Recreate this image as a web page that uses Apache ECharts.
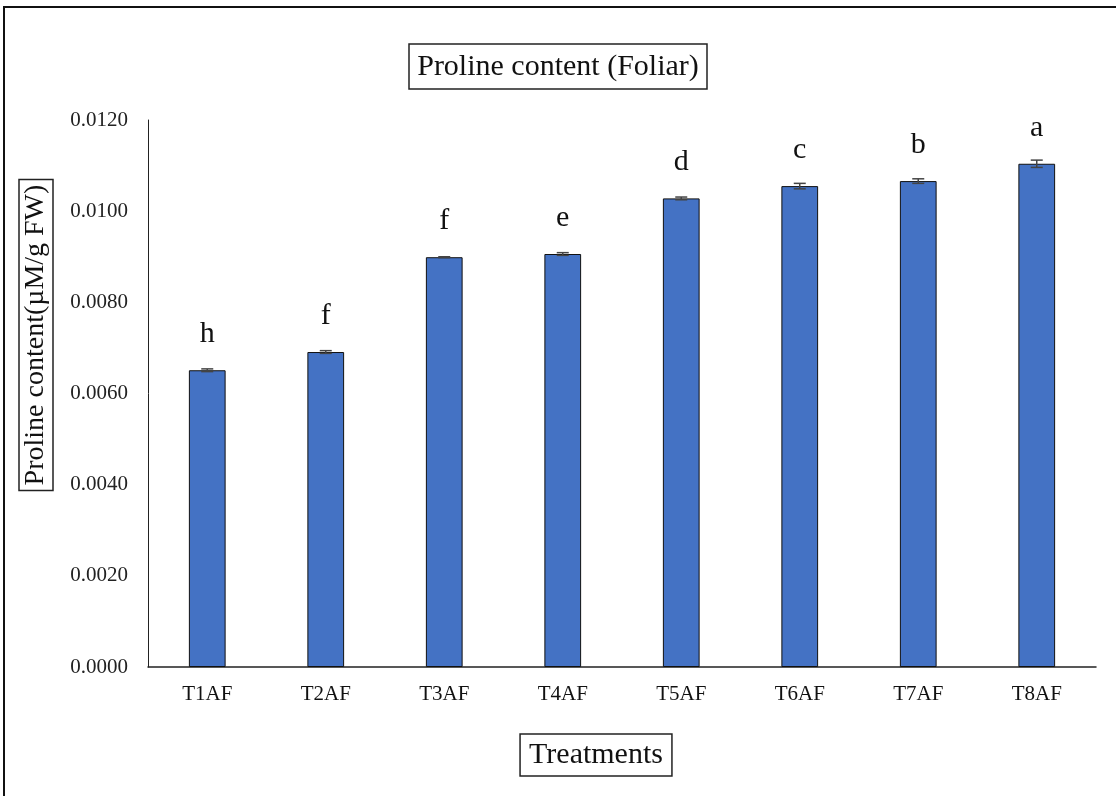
<!DOCTYPE html>
<html><head><meta charset="utf-8">
<script src="https://cdn.jsdelivr.net/npm/echarts@6/dist/echarts.min.js"></script>
<style>html,body{margin:0;padding:0;background:#fff}#c{width:1116px;height:796px}</style>
</head><body><div id="c"></div>
<script>
const categories = ['T1AF','T2AF','T3AF','T4AF','T5AF','T6AF','T7AF','T8AF'];
const values = [0.00651, 0.00691, 0.00899, 0.00906, 0.01028, 0.01055, 0.01066, 0.01104];
const errors = [0.00003, 0.00003, 0.00001, 0.00003, 0.00003, 0.00006, 0.00005, 0.00008];
const letters = ['h','f','f','e','d','c','b','a'];
const yTicks = {min: 0, max: 0.012, interval: 0.002};
const titleText = 'Proline content (Foliar)';
const xName = 'Treatments';
const yName = 'Proline content(µM/g FW)';

const chart = echarts.init(document.getElementById('c'), null, {renderer:'canvas'});
const serif = '"Liberation Serif", "Times New Roman", serif';
chart.setOption({
  animation: false,
  backgroundColor: '#fff',
  title: {
    text: titleText, left: 'center', top: 44,
    padding: [8, 8, 7, 8], borderColor: '#222', borderWidth: 1.5,
    textStyle: {fontFamily: serif, fontSize: 30, fontWeight: 'normal', color: '#111'}
  },
  graphic: [
    {type:'rect', shape:{x:4, y:7, width:1200, height:900}, style:{fill:'none', stroke:'#111', lineWidth:2}, silent:true},
    {type:'text', x: 596, y: 755, silent: true,
      style:{text: xName, font: '30px ' + serif, fill:'#111', align:'center', verticalAlign:'middle',
        borderColor:'#222', borderWidth:1.5, padding:[7, 9, 5, 9]}},
    {type:'text', x: 36, y: 335, rotation: Math.PI/2, silent: true,
      style:{text: yName, font: '28px ' + serif, fill:'#111', align:'center', verticalAlign:'middle',
        borderColor:'#222', borderWidth:1.5, padding:[4, 5, 2, 5]}}
  ],
  grid: {left: 148, right: 20, top: 120, bottom: 129, containLabel: false, outerBoundsMode: 'none'},
  xAxis: {
    type: 'category', data: categories,
    axisLine: {lineStyle: {color: '#222', width: 1.5}},
    axisTick: {show: false},
    axisLabel: {fontFamily: serif, fontSize: 21, color: '#111', margin: 17}
  },
  yAxis: {
    type: 'value', min: yTicks.min, max: yTicks.max, interval: yTicks.interval,
    axisLine: {show: true, lineStyle: {color: '#222', width: 1}},
    axisTick: {show: false},
    splitLine: {show: false},
    axisLabel: {fontFamily: serif, fontSize: 21, color: '#222', margin: 20, formatter: v => v.toFixed(4)}
  },
  series: [
    {
      type: 'bar', data: values, barWidth: '31%',
      itemStyle: {color: '#4472C4', borderColor: '#111', borderWidth: 1},
      label: {show: true, position: 'top', distance: 21, formatter: p => letters[p.dataIndex],
        fontFamily: serif, fontSize: 30, color: '#111'}
    },
    {
      type: 'custom', z: 10,
      data: values.map((v, i) => [i, v - errors[i], v + errors[i]]),
      renderItem: (params, api) => {
        const lo = api.coord([api.value(0), api.value(1)]);
        const hi = api.coord([api.value(0), api.value(2)]);
        const w = 6;
        const st = {stroke: '#444', lineWidth: 1.5};
        return {type: 'group', children: [
          {type: 'line', shape: {x1: lo[0], y1: lo[1], x2: hi[0], y2: hi[1]}, style: st},
          {type: 'line', shape: {x1: lo[0]-w, y1: lo[1], x2: lo[0]+w, y2: lo[1]}, style: st},
          {type: 'line', shape: {x1: hi[0]-w, y1: hi[1], x2: hi[0]+w, y2: hi[1]}, style: st}
        ]};
      }
    }
  ]
});
</script></body></html>
